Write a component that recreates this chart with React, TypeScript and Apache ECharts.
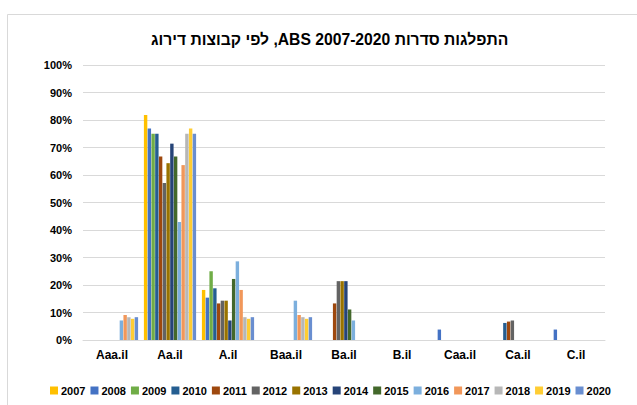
import React, { useEffect, useRef } from "react";
import * as echarts from "echarts";

// Title pieces laid out left-to-right as they appear visually in the RTL title
const titleParts = ["לפי קבוצות דירוג", " ,ABS 2007-2020 ", "התפלגות סדרות"];
const categories = ["Aaa.il", "Aa.il", "A.il", "Baa.il", "Ba.il", "B.il", "Caa.il", "Ca.il", "C.il"];
const years = ["2007", "2008", "2009", "2010", "2011", "2012", "2013", "2014", "2015", "2016", "2017", "2018", "2019", "2020"];
const colors = ["#FFC000", "#4472C4", "#70AD47", "#255E91", "#9E480E", "#636363", "#997300", "#264478", "#43682B", "#7CAFDD", "#F1975A", "#B7B7B7", "#FFCD33", "#698ED0"];

const v2007 = [0, 81.8, 18.2, 0, 0, 0, 0, 0, 0];
const v2008 = [0, 76.9, 15.4, 0, 0, 0, 3.8, 0, 3.8];
const v2009 = [0, 75, 25, 0, 0, 0, 0, 0, 0];
const v2010 = [0, 75, 18.8, 0, 0, 0, 0, 6.2, 0];
const v2011 = [0, 66.7, 13.3, 0, 13.3, 0, 0, 6.7, 0];
const v2012 = [0, 57.1, 14.3, 0, 21.4, 0, 0, 7.1, 0];
const v2013 = [0, 64.3, 14.3, 0, 21.4, 0, 0, 0, 0];
const v2014 = [0, 71.4, 7.1, 0, 21.4, 0, 0, 0, 0];
const v2015 = [0, 66.7, 22.2, 0, 11.1, 0, 0, 0, 0];
const v2016 = [7.1, 42.9, 28.6, 14.3, 7.1, 0, 0, 0, 0];
const v2017 = [9.1, 63.6, 18.2, 9.1, 0, 0, 0, 0, 0];
const v2018 = [8.3, 75, 8.3, 8.3, 0, 0, 0, 0, 0];
const v2019 = [7.7, 76.9, 7.7, 7.7, 0, 0, 0, 0, 0];
const v2020 = [8.3, 75, 8.3, 8.3, 0, 0, 0, 0, 0];

const values = [v2007, v2008, v2009, v2010, v2011, v2012, v2013, v2014, v2015, v2016, v2017, v2018, v2019, v2020];
const yTicks = [0, 10, 20, 30, 40, 50, 60, 70, 80, 90, 100];

const FONT = "'Liberation Sans', Arial, sans-serif";

export default function App() {
  const ref = useRef<HTMLDivElement>(null);
  useEffect(() => {
    if (!ref.current) return;
    const chart = echarts.init(ref.current, undefined, { renderer: "svg" });
    const titleStyle = { fontFamily: FONT, fontSize: 15.7, fontWeight: "bold", color: "#000" };
    chart.setOption({
      animation: false,
      backgroundColor: "#ffffff",
      title: {
        text: "{a|" + titleParts[0] + "}{l|" + titleParts[1] + "}{b|" + titleParts[2] + "}",
        left: 146,
        top: 26,
        textStyle: { ...titleStyle, rich: { a: titleStyle, l: titleStyle, b: titleStyle } },
      },
      graphic: [
        {
          type: "rect",
          shape: { x: 7.5, y: 14.5, width: 700, height: 500 },
          style: { fill: "none", stroke: "#d9d9d9", lineWidth: 1 },
          silent: true,
        },
      ],
      legend: {
        data: years,
        bottom: 4,
        left: 45,
        itemWidth: 8,
        itemHeight: 8,
        itemGap: 5,
        icon: "rect",
        textStyle: { fontFamily: FONT, fontSize: 11, fontWeight: "bold", color: "#000", padding: [0, 0, 0, -2] },
      },
      grid: { left: 83, right: 32, top: 65, bottom: 65 },
      xAxis: {
        type: "category",
        data: categories,
        axisLine: { lineStyle: { color: "#d9d9d9" } },
        axisTick: { show: false },
        axisLabel: { fontFamily: FONT, fontSize: 12, fontWeight: "bold", color: "#000", margin: 9 },
      },
      yAxis: {
        type: "value",
        min: yTicks[0],
        max: yTicks[yTicks.length - 1],
        interval: 10,
        axisLine: { show: false },
        axisTick: { show: false },
        splitLine: { lineStyle: { color: "#d9d9d9" } },
        axisLabel: { fontFamily: FONT, fontSize: 11, fontWeight: "bold", color: "#000", margin: 11, formatter: "{value}%" },
      },
      series: years.map((y, i) => ({
        name: y,
        type: "bar",
        data: values[i],
        itemStyle: { color: colors[i] },
        barGap: "10%",
        barCategoryGap: "10%",
      })),
    });
    return () => chart.dispose();
  }, []);
  return <div ref={ref} style={{ position: "fixed", left: 0, top: 0, width: 637, height: 405 }} />;
}
